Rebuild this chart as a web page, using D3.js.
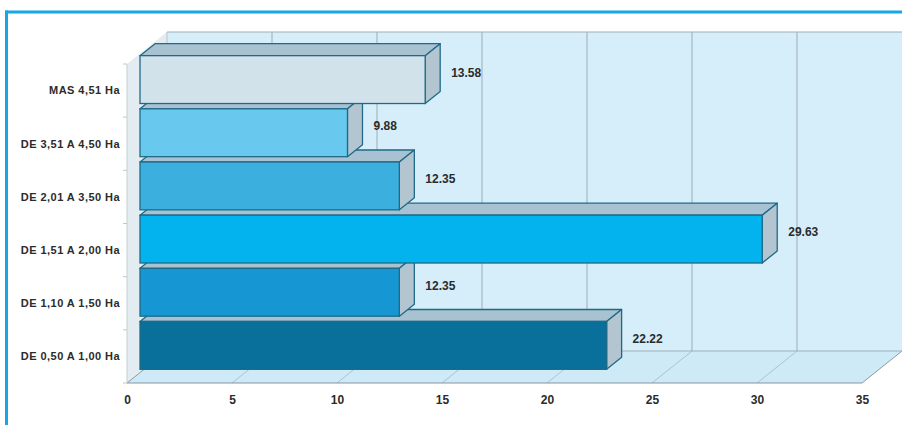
<!DOCTYPE html>
<html>
<head>
<meta charset="utf-8">
<script src="https://cdn.jsdelivr.net/npm/d3@7/dist/d3.min.js"></script>
<style>
  html, body { margin: 0; padding: 0; background: #ffffff; }
  svg { display: block; font-family: "Liberation Sans", Arial, sans-serif; }
</style>
</head>
<body>
<svg id="chart" width="902" height="425"></svg>
<script>
// ---- data (top to bottom as shown) ----
const categories = ["MAS 4,51 Ha", "DE 3,51 A 4,50 Ha", "DE 2,01 A 3,50 Ha", "DE 1,51 A 2,00 Ha", "DE 1,10 A 1,50 Ha", "DE 0,50 A 1,00 Ha"];
const values = [13.58, 9.88, 12.35, 29.63, 12.35, 22.22];
const valueLabels = ["13.58", "9.88", "12.35", "29.63", "12.35", "22.22"];
const xTicks = [0, 5, 10, 15, 20, 25, 30, 35];
const xDomain = [0, 35];

// ---- styles ----
const frontColors = ["#d2e2eb", "#68c8ee", "#3bb0df", "#02b3ee", "#1696d2", "#09709c"];
const topColor = "#a9c2d1", sideColor = "#b2c5d0", edgeColor = "#1f6a88";

const svg = d3.select("#chart");

// front plane geometry
const x = d3.scaleLinear().domain(xDomain).range([127, 862]);
const y = d3.scaleBand().domain(categories).range([64, 383]).paddingInner(0.1).paddingOuter(0.05);
const yAxisBand = d3.scaleBand().domain(categories).range([64, 383]);
const D = [40, -32];          // full depth of the plot box
const barShift = [13, -11];   // bar front face offset into depth
const barDepth = [15, -12];   // bar thickness in depth

const x0 = 127, x1 = 862, yTop = 64, yBot = 383;

// frame
svg.append("line").attr("x1", 5).attr("x2", 902).attr("y1", 12).attr("y2", 12)
  .attr("stroke", "#14a8e6").attr("stroke-width", 3);
svg.append("line").attr("x1", 6.5).attr("x2", 6.5).attr("y1", 10.5).attr("y2", 425)
  .attr("stroke", "#14a8e6").attr("stroke-width", 3);

const poly = pts => pts.map(p => p.join(",")).join(" ");

// back wall
svg.append("polygon")
  .attr("points", poly([[x0 + D[0], yTop + D[1]], [x1 + D[0], yTop + D[1]], [x1 + D[0], yBot + D[1]], [x0 + D[0], yBot + D[1]]]))
  .attr("fill", "#d5eef9");
// left wall
svg.append("polygon")
  .attr("points", poly([[x0, yTop], [x0 + D[0], yTop + D[1]], [x0 + D[0], yBot + D[1]], [x0, yBot]]))
  .attr("fill", "#e3ecf0");
// floor
svg.append("polygon")
  .attr("points", poly([[x0, yBot], [x1, yBot], [x1 + D[0], yBot + D[1]], [x0 + D[0], yBot + D[1]]]))
  .attr("fill", "#cfeaf7");

// back wall top edge
svg.append("line").attr("x1", x0 + D[0]).attr("x2", x1 + D[0]).attr("y1", yTop + D[1]).attr("y2", yTop + D[1])
  .attr("stroke", "#a4adb3").attr("stroke-width", 1.2);

// gridlines on back wall and floor
xTicks.forEach(t => {
  if (t > 0 && t < 35) {
    svg.append("line")
      .attr("x1", x(t) + D[0]).attr("x2", x(t) + D[0])
      .attr("y1", yTop + D[1]).attr("y2", yBot + D[1])
      .attr("stroke", "#9fadb5").attr("stroke-width", 1);
  }
  svg.append("line")
    .attr("x1", x(t)).attr("y1", yBot)
    .attr("x2", x(t) + D[0]).attr("y2", yBot + D[1])
    .attr("stroke", t === 0 || t === 35 ? "#8a99a3" : "#a9c3d0").attr("stroke-width", 1);
});
// back floor edge
svg.append("line").attr("x1", x0 + D[0]).attr("x2", x1 + D[0]).attr("y1", yBot + D[1]).attr("y2", yBot + D[1])
  .attr("stroke", "#9fb0ba").attr("stroke-width", 1);
// left wall back edge
svg.append("line").attr("x1", x0 + D[0]).attr("x2", x0 + D[0]).attr("y1", yTop + D[1]).attr("y2", yBot + D[1])
  .attr("stroke", "#b8c4ca").attr("stroke-width", 1);
// front axis lines
svg.append("line").attr("x1", x0).attr("x2", x1).attr("y1", yBot).attr("y2", yBot)
  .attr("stroke", "#8796a0").attr("stroke-width", 1.2);
svg.append("line").attr("x1", x0).attr("x2", x0).attr("y1", yTop).attr("y2", yBot)
  .attr("stroke", "#c5ced3").attr("stroke-width", 1);
// left axis tick marks at band boundaries
d3.range(categories.length + 1).forEach(i => {
  const yy = 64 + i * yAxisBand.step();
  svg.append("line").attr("x1", x0 - 4).attr("x2", x0).attr("y1", yy).attr("y2", yy)
    .attr("stroke", "#c0c8cc").attr("stroke-width", 1);
});

// bars, drawn bottom first
const bars = categories.map((c, i) => ({ c, v: values[i], label: valueLabels[i], color: frontColors[i] })).reverse();
const g = svg.append("g");
bars.forEach(d => {
  const fx0 = x(0) + barShift[0], fx1 = x(d.v) + barShift[0];
  const fy0 = y(d.c) + barShift[1], fy1 = y(d.c) + y.bandwidth() + barShift[1];
  const [dx, dy] = barDepth;
  // top face
  g.append("polygon").attr("points", poly([[fx0, fy0], [fx1, fy0], [fx1 + dx, fy0 + dy], [fx0 + dx, fy0 + dy]]))
    .attr("fill", topColor).attr("stroke", edgeColor).attr("stroke-width", 1.3).attr("stroke-linejoin", "round");
  // side face
  g.append("polygon").attr("points", poly([[fx1, fy0], [fx1 + dx, fy0 + dy], [fx1 + dx, fy1 + dy], [fx1, fy1]]))
    .attr("fill", sideColor).attr("stroke", edgeColor).attr("stroke-width", 1.3).attr("stroke-linejoin", "round");
  // front face
  g.append("rect").attr("x", fx0).attr("y", fy0).attr("width", fx1 - fx0).attr("height", fy1 - fy0)
    .attr("fill", d.color).attr("stroke", edgeColor).attr("stroke-width", 1.3);
});

// value labels
bars.forEach(d => {
  svg.append("text")
    .attr("x", x(d.v) + barShift[0] + 26)
    .attr("y", y(d.c) + barShift[1] + 17)
    .attr("dy", "0.35em")
    .attr("font-size", 12).attr("font-weight", "bold").attr("fill", "#2b2b2b")
    .text(d.label);
});

// category labels
categories.forEach(c => {
  svg.append("text")
    .attr("x", 120)
    .attr("y", yAxisBand(c) + yAxisBand.bandwidth() / 2)
    .attr("dy", "0.35em")
    .attr("text-anchor", "end")
    .attr("font-size", 11).attr("font-weight", "bold").attr("fill", "#2b2b2b")
    .attr("letter-spacing", 0.45)
    .text(c);
});

// x axis labels
const xAxis = d3.axisBottom(x).tickValues(xTicks).tickSize(0).tickPadding(12);
const ax = svg.append("g").attr("transform", `translate(0,${yBot})`).call(xAxis);
ax.select(".domain").remove();
ax.selectAll("text").attr("font-size", 12).attr("font-weight", "bold").attr("fill", "#2b2b2b")
  .attr("font-family", "Liberation Sans, Arial, sans-serif");
</script>
</body>
</html>
